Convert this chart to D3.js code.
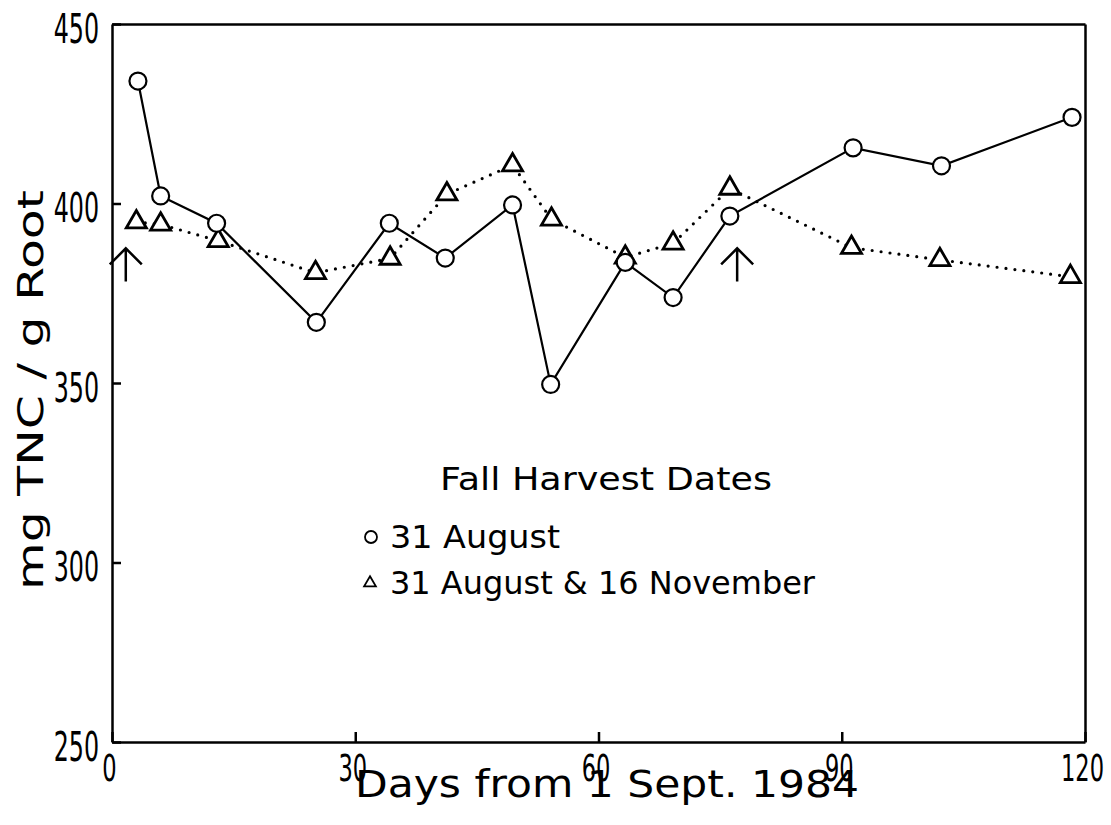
<!DOCTYPE html>
<html>
<head>
<meta charset="utf-8">
<script src="https://cdn.jsdelivr.net/npm/d3@7"></script>
<style>
body { margin: 0; background: #fff; }
text { font-family: "DejaVu Sans", sans-serif; fill: #000; }
</style>
</head>
<body>
<script>

// valeurs
var days31Aug = [3.2, 6.0, 12.9, 25.2, 34.2, 41.1, 49.4, 54.1, 63.3, 69.2, 76.2, 91.4, 102.3, 118.4];
var tnc31Aug = [434.1, 402.1, 394.5, 366.9, 394.5, 384.8, 399.6, 349.6, 383.6, 373.8, 396.5, 415.5, 410.5, 424.0];

var days31Aug16Nov = [3.0, 6.0, 13.1, 25.1, 34.3, 41.3, 49.4, 54.2, 63.3, 69.2, 76.2, 91.2, 102.1, 118.2];
var tnc31Aug16Nov = [394.8, 394.2, 389.6, 380.7, 384.7, 402.6, 410.7, 395.6, 385.0, 388.9, 404.2, 387.7, 384.3, 379.6];

var xTicks = [0, 30, 60, 90, 120];
var yTicks = [250, 300, 350, 400, 450];

// flèches (dates de coupe)
var arrowDays = [1.7, 77.1];
var arrowTip = [387.5, 387.5];

var legendTitle = "Fall Harvest Dates";
var legendLabels = ["31 August", "31 August & 16 November"];
var xTitle = "Days from 1 Sept. 1984";
var yTitle = "mg TNC / g Root";

var width = 1111;
var height = 825;

var svg = d3.select("body")
    .append("svg")
    .attr("width", width)
    .attr("height", height);

var xscale = d3.scaleLinear()
    .domain([0, 120])
    .range([112, 1085]);

var yscale = d3.scaleLinear()
    .domain([250, 450])
    .range([742, 24]);

var sx = 0.66; // compression horizontale des chiffres

// axe x
var gx = svg.append("g")
    .attr("transform", "translate(0," + yscale(250) + ")")
    .call(d3.axisBottom(xscale).tickValues(xTicks).tickSizeInner(-10).tickSizeOuter(0));
gx.selectAll("text")
    .attr("y", 39)
    .attr("dy", null)
    .attr("x", -3 / sx)
    .attr("transform", "scale(" + sx + ",1)")
    .style("font-family", "'Liberation Sans Narrow', 'DejaVu Sans Condensed', sans-serif")
    .style("font-size", "38px");

// axe y
var gy = svg.append("g")
    .attr("transform", "translate(" + xscale(0) + ",0)")
    .call(d3.axisLeft(yscale).tickValues(yTicks).tickSizeInner(-9).tickSizeOuter(0));
gy.selectAll("text")
    .attr("x", -13 / sx)
    .attr("y", 18)
    .attr("dy", null)
    .attr("transform", "scale(" + sx + ",1)")
    .style("font-family", "'Liberation Sans Narrow', 'DejaVu Sans Condensed', sans-serif")
    .style("font-size", "40px");

// cadre haut et droite
svg.append("g")
    .attr("transform", "translate(0," + yscale(450) + ")")
    .call(d3.axisTop(xscale).tickValues([]).tickSizeOuter(0));
svg.append("g")
    .attr("transform", "translate(" + xscale(120) + ",0)")
    .call(d3.axisRight(yscale).tickValues([]).tickSizeOuter(0));

svg.selectAll(".domain, .tick line")
    .attr("stroke", "#000")
    .attr("stroke-width", 2.5);

// courbes
var line = d3.line()
    .x(function (d) { return xscale(d[0]); })
    .y(function (d) { return yscale(d[1]); });

var serie1 = d3.zip(days31Aug, tnc31Aug);
var serie2 = d3.zip(days31Aug16Nov, tnc31Aug16Nov);

svg.append("path")
    .datum(serie2)
    .attr("d", line)
    .attr("fill", "none")
    .attr("stroke", "#000")
    .attr("stroke-width", 3.2)
    .attr("stroke-linecap", "round")
    .attr("stroke-dasharray", "0 9");

svg.append("path")
    .datum(serie1)
    .attr("d", line)
    .attr("fill", "none")
    .attr("stroke", "#000")
    .attr("stroke-width", 2.2);

// triangles
var tri = d3.symbol().type(d3.symbolTriangle).size(175);
svg.append("g")
    .selectAll("path")
    .data(serie2)
    .enter()
    .append("path")
    .attr("d", tri)
    .attr("transform", function (d) { return "translate(" + xscale(d[0]) + "," + yscale(d[1]) + ")"; })
    .attr("fill", "#fff")
    .attr("stroke", "#000")
    .attr("stroke-width", 2.8);

// cercles
svg.append("g")
    .selectAll("circle")
    .data(serie1)
    .enter()
    .append("circle")
    .attr("cx", function (d) { return xscale(d[0]); })
    .attr("cy", function (d) { return yscale(d[1]); })
    .attr("r", 8.5)
    .attr("fill", "#fff")
    .attr("stroke", "#000")
    .attr("stroke-width", 2.2);

// flèches
svg.append("g")
    .selectAll("path")
    .data(d3.zip(arrowDays, arrowTip))
    .enter()
    .append("path")
    .attr("d", function (d) {
        var p = d3.path();
        var ax = xscale(d[0]), ay = yscale(d[1]);
        p.moveTo(ax, ay);
        p.lineTo(ax, ay + 33);
        p.moveTo(ax - 16, ay + 16);
        p.lineTo(ax, ay);
        p.lineTo(ax + 16, ay + 16);
        return p.toString();
    })
    .attr("fill", "none")
    .attr("stroke", "#000")
    .attr("stroke-width", 2.5);

// titres des axes
svg.append("text")
    .attr("x", 355)
    .attr("y", 797)
    .attr("textLength", 504)
    .attr("lengthAdjust", "spacingAndGlyphs")
    .style("font-size", "37px")
    .text(xTitle);

svg.append("text")
    .attr("transform", "translate(43,390) rotate(-90)")
    .attr("text-anchor", "middle")
    .attr("textLength", 400)
    .attr("lengthAdjust", "spacingAndGlyphs")
    .style("font-size", "35px")
    .text(yTitle);

// légende
svg.append("text")
    .attr("x", 440)
    .attr("y", 490)
    .attr("textLength", 332)
    .attr("lengthAdjust", "spacingAndGlyphs")
    .style("font-size", "32px")
    .text(legendTitle);

var legendY = [537, 583];
var legendLen = [170, 425];

svg.append("circle")
    .attr("cx", 371)
    .attr("cy", legendY[0])
    .attr("r", 6)
    .attr("fill", "none")
    .attr("stroke", "#000")
    .attr("stroke-width", 1.8);

svg.append("path")
    .attr("d", d3.symbol().type(d3.symbolTriangle).size(60))
    .attr("transform", "translate(370," + legendY[1] + ")")
    .attr("fill", "none")
    .attr("stroke", "#000")
    .attr("stroke-width", 1.8);

svg.append("g")
    .selectAll("text")
    .data(legendLabels)
    .enter()
    .append("text")
    .attr("x", 390)
    .attr("y", function (d, i) { return legendY[i] + 11; })
    .attr("textLength", function (d, i) { return legendLen[i]; })
    .attr("lengthAdjust", "spacingAndGlyphs")
    .style("font-size", "32px")
    .text(function (d) { return d; });

</script>
</body>
</html>
